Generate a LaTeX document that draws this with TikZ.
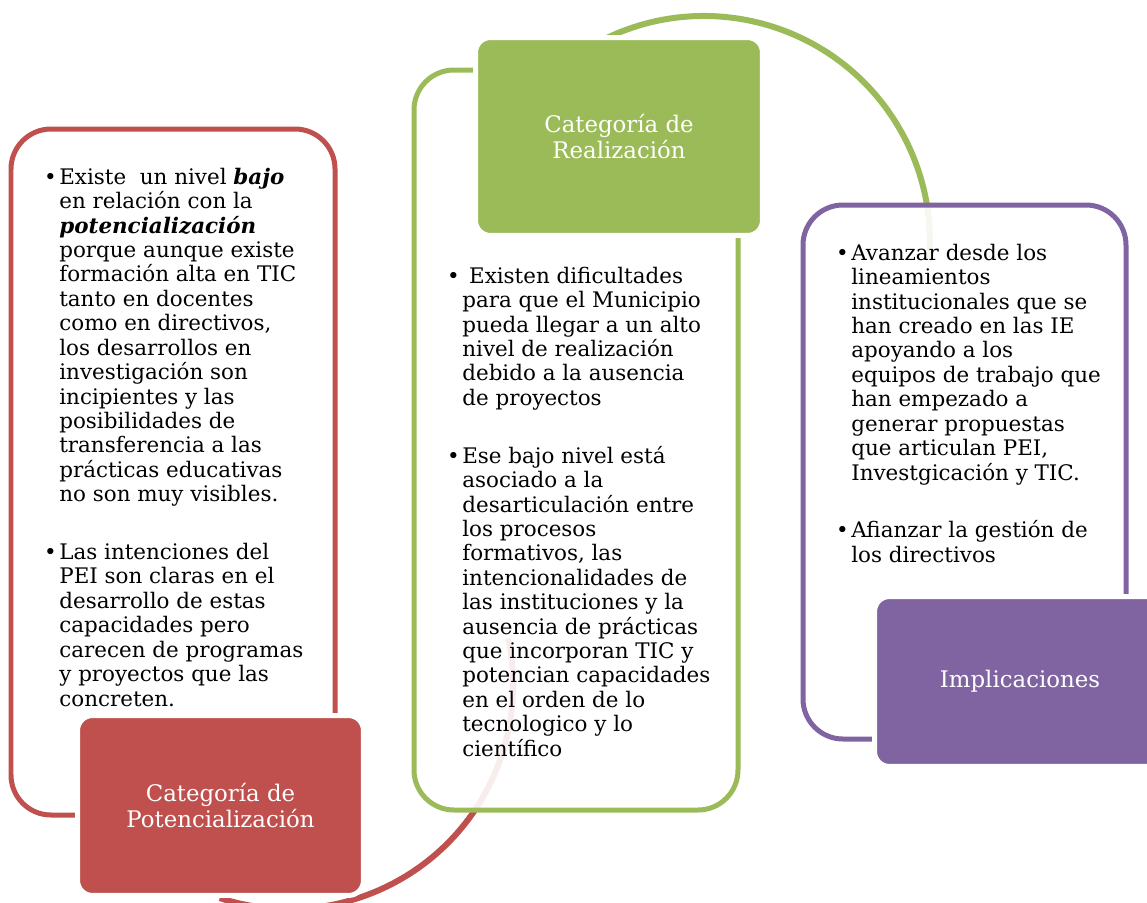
\documentclass[tikz,border=0pt]{standalone}
\usepackage{fontspec}
\setmainfont{DejaVu Serif}
\definecolor{potred}{HTML}{C0504D}
\definecolor{realgreen}{HTML}{9BBB59}
\definecolor{implpurple}{HTML}{8064A2}
\newcommand{\topstrut}{\rule{0pt}{11pt}}
\newcommand{\bul}{\llap{\textbullet\hspace{1.5pt}}}
\tikzset{
  framebox/.style={line width=0.1cm, rounded corners=0.8cm, fill=white, fill opacity=0.9},
  catbox/.style={draw=white, line width=0.1cm, rounded corners=0.3cm, text=white,
    align=center, font=\fontsize{13}{15.3}\selectfont},
  bodytext/.style={anchor=north west, inner sep=0pt, align=left,
    font=\fontsize{12.2}{13.9}\selectfont},
  cyclearc/.style={line width=0.12cm}
}

\begin{document}
\begin{tikzpicture}[x=0.02cm, y=-0.02cm]
\useasboundingbox (0,0) rectangle (1147,903);
% arcs
\draw[cyclearc, draw=potred] (289,685) ++(108:224) arc[start angle=108, end angle=-12, radius=224];
\draw[cyclearc, draw=realgreen] (704,242) ++(-120:226) arc[start angle=-120, end angle=5, radius=226];
% outlined boxes
\draw[framebox, draw=potred] (11,129) rectangle (335,815);
\draw[framebox, draw=realgreen] (414,70) rectangle (738,810);
\draw[framebox, draw=implpurple] (803,205) rectangle (1126,739);
% category boxes
\node[catbox, fill=potred, minimum width=5.72cm, minimum height=3.6cm] (pot) at (220.5,805.5)
  {Categoría de\\Potencialización};
\node[catbox, fill=realgreen, minimum width=5.74cm, minimum height=3.96cm] (real) at (619,136.5)
  {Categoría de\\Realización};
\node[catbox, fill=implpurple, minimum width=5.82cm, minimum height=3.4cm] (impl) at (1020,681.5)
  {Implicaciones};
% texts
\node[bodytext] (pottext) at (59,164.6) {\topstrut\bul Existe\ \ un nivel \textbf{\textit{bajo}}\\
en relación con la\\
\textbf{\textit{potencialización}}\\
porque aunque existe\\
formación alta en TIC\\
tanto en docentes\\
como en directivos,\\
los desarrollos en\\
investigación son\\
incipientes y las\\
posibilidades de\\
transferencia a las\\
prácticas educativas\\
no son muy visibles.\\[19pt]
\bul Las intenciones del\\
PEI son claras en el\\
desarrollo de estas\\
capacidades pero\\
carecen de programas\\
y proyectos que las\\
concreten.};
\node[bodytext] (realtext) at (462,263.6) {\topstrut\bul\ Existen dificultades\\
para que el Municipio\\
pueda llegar a un alto\\
nivel de realización\\
debido a la ausencia\\
de proyectos\\[19pt]
\bul Ese bajo nivel está\\
asociado a la\\
desarticulación entre\\
los procesos\\
formativos, las\\
intencionalidades de\\
las instituciones y la\\
ausencia de prácticas\\
que incorporan TIC y\\
potencian capacidades\\
en el orden de lo\\
tecnologico y lo\\
científico};
\node[bodytext] (impltext) at (851,240.6) {\topstrut\bul Avanzar desde los\\
lineamientos\\
institucionales que se\\
han creado en las IE\\
apoyando a los\\
equipos de trabajo que\\
han empezado a\\
generar propuestas\\
que articulan PEI,\\
Investgicación y TIC.\\[19pt]
\bul Afianzar la gestión de\\
los directivos};
\end{tikzpicture}
\end{document}
